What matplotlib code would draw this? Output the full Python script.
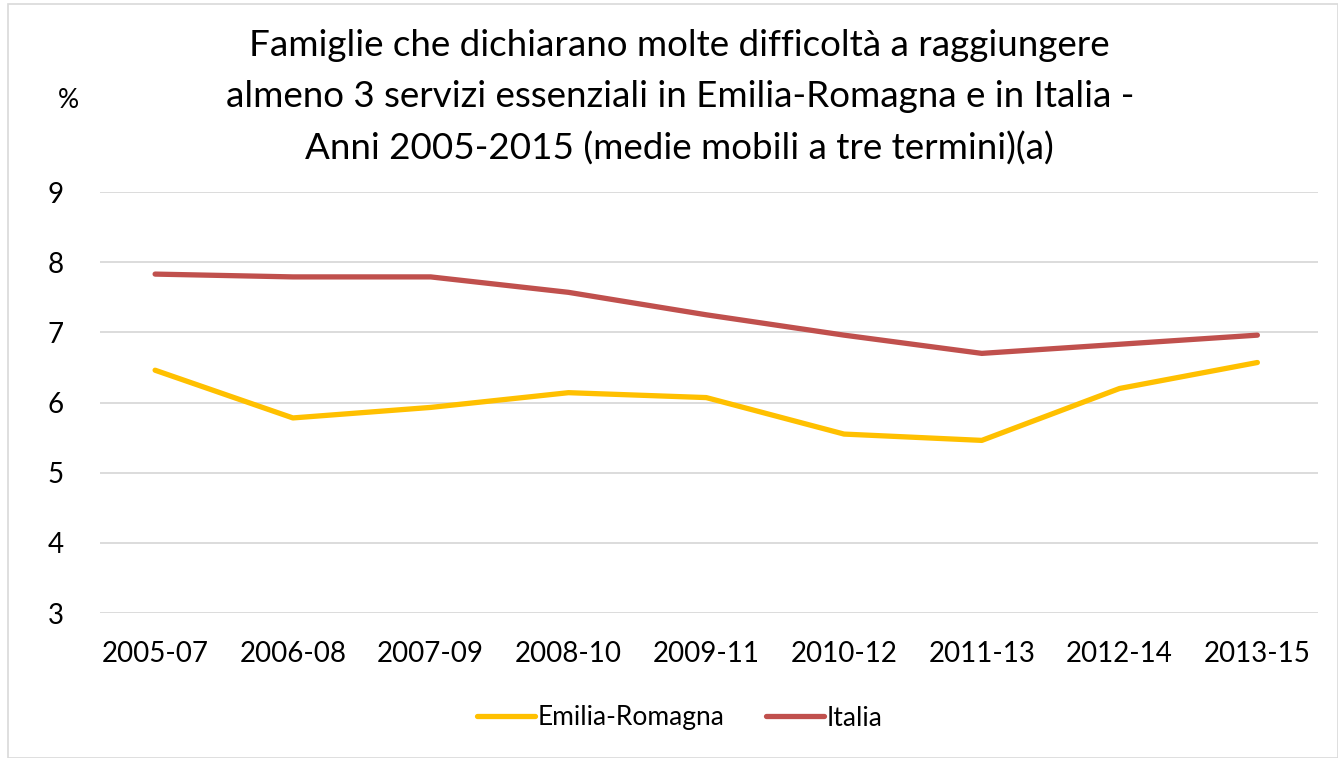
import matplotlib
matplotlib.use("Agg")
from matplotlib import pyplot as plt
from matplotlib.patches import Rectangle

# dati (medie mobili a tre termini, %)
periodi = ["2005-07", "2006-08", "2007-09", "2008-10", "2009-11",
           "2010-12", "2011-13", "2012-14", "2013-15"]
emilia_romagna = [6.46, 5.78, 5.93, 6.14, 6.07, 5.55, 5.46, 6.20, 6.57]
italia = [7.83, 7.79, 7.79, 7.57, 7.25, 6.96, 6.70, 6.83, 6.96]
y_ticks = [3, 4, 5, 6, 7, 8, 9]

plt.rcParams['font.family'] = ['Lato', 'DejaVu Sans']

fig = plt.figure(figsize=(13.38, 7.58), dpi=100)
ax = fig.add_axes([100 / 1338, 145 / 758, 1218 / 1338, 421 / 758])

x = list(range(len(periodi)))
ax.plot(x, emilia_romagna, color="#FFC000", lw=3.8, label="Emilia-Romagna",
        solid_capstyle="round")
ax.plot(x, italia, color="#C0504D", lw=3.8, label="Italia",
        solid_capstyle="round")

ax.set_xlim(-0.4, len(periodi) - 1 + 0.44)
ax.set_ylim(3, 9)
ax.set_yticks(y_ticks)
ax.set_xticks(x)
ax.set_xticklabels(periodi)
ax.tick_params(axis="both", length=0, labelsize=20, colors="#000000")
ax.tick_params(axis="x", pad=20)
ax.tick_params(axis="y", pad=26)
ax.grid(axis="y", color="#D9D9D9", lw=1.3)
ax.set_axisbelow(True)
for s in ax.spines.values():
    s.set_visible(False)

fig.text(0.508, 0.962,
         "Famiglie che dichiarano molte difficoltà a raggiungere\n"
         "almeno 3 servizi essenziali in Emilia-Romagna e in Italia -\n"
         "Anni 2005-2015 (medie mobili a tre termini)(a)",
         ha="center", va="top", fontsize=26.5, linespacing=1.66)
fig.text(68 / 1338, 1 - 100 / 758, "%", ha="center", va="center", fontsize=19)

fig.legend(loc="center", bbox_to_anchor=(0.508, 1 - 718 / 758), ncol=2,
           frameon=False, fontsize=19, handlelength=2.2, handletextpad=0.1,
           columnspacing=1.6)

fig.patches.append(Rectangle((8 / 1338, 0), 1 - 8 / 1338, 1 - 4 / 758,
                             transform=fig.transFigure, fill=False,
                             edgecolor="#D9D9D9", lw=1.2))

fig.savefig("out.png", dpi=100, facecolor="white")
